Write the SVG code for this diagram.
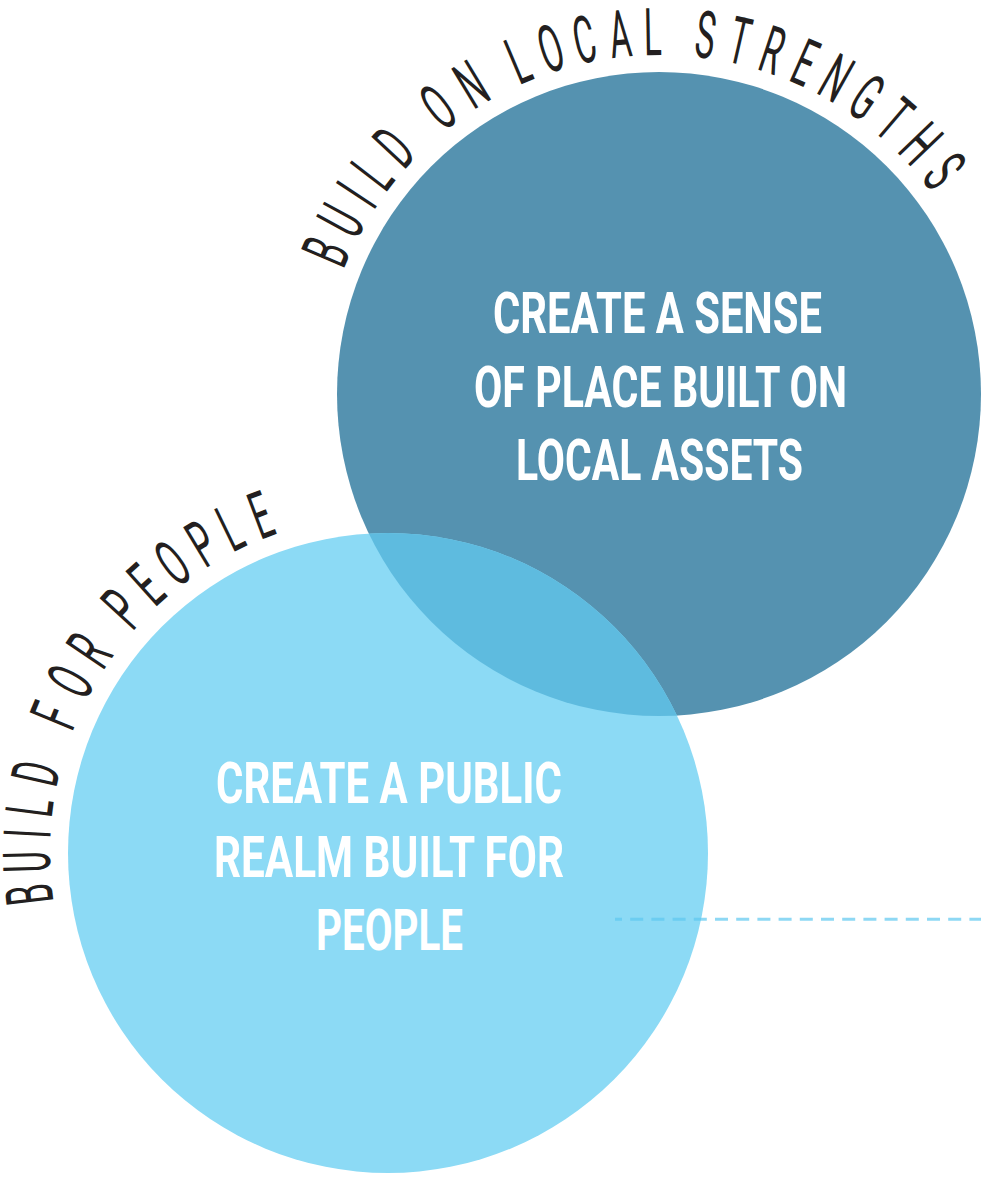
<svg xmlns="http://www.w3.org/2000/svg" width="981" height="1177" viewBox="0 0 981 1177">
<style>
.arc{font-family:Roboto,"Liberation Sans",sans-serif;font-weight:400;font-size:66px;fill:#231f20;text-anchor:middle}
.inner{font-family:Roboto,"Liberation Sans",sans-serif;font-weight:700;font-size:57px;fill:#ffffff}
</style>
<defs>
<clipPath id="clipDark"><circle cx="659" cy="394" r="322"/></clipPath>
</defs>
<g id="node-local-strengths">
<circle cx="659" cy="394" r="322" fill="#5592b0"/>
</g>
<g id="node-people">
<circle cx="388" cy="853" r="320" fill="#8cdaf5"/>
</g>
<g id="overlap">
<circle cx="388" cy="853" r="320" fill="#5ebbdf" clip-path="url(#clipDark)"/>
</g>
<g id="label-local-strengths">
<text class="inner" x="493" y="333" textLength="329" lengthAdjust="spacingAndGlyphs">CREATE A SENSE</text>
<text class="inner" x="474" y="407" textLength="373" lengthAdjust="spacingAndGlyphs">OF PLACE BUILT ON</text>
<text class="inner" x="516" y="480" textLength="287" lengthAdjust="spacingAndGlyphs">LOCAL ASSETS</text>
</g>
<g id="label-people">
<text class="inner" x="216" y="803" textLength="346" lengthAdjust="spacingAndGlyphs">CREATE A PUBLIC</text>
<text class="inner" x="214" y="877" textLength="350" lengthAdjust="spacingAndGlyphs">REALM BUILT FOR</text>
<text class="inner" x="316" y="950" textLength="147" lengthAdjust="spacingAndGlyphs">PEOPLE</text>
</g>
<g id="arc-build-on-local-strengths">
<text class="arc" transform="rotate(-66.8 659 394) translate(659 55) scale(0.5 1)">B</text>
<text class="arc" transform="rotate(-61.4 659 394) translate(659 55) scale(0.5 1)">U</text>
<text class="arc" transform="rotate(-56.6 659 394) translate(659 55) scale(0.5 1)">I</text>
<text class="arc" transform="rotate(-52.3 659 394) translate(659 55) scale(0.5 1)">L</text>
<text class="arc" transform="rotate(-47.0 659 394) translate(659 55) scale(0.5 1)">D</text>
<text class="arc" transform="rotate(-37.6 659 394) translate(659 55) scale(0.5 1)">O</text>
<text class="arc" transform="rotate(-31.2 659 394) translate(659 55) scale(0.5 1)">N</text>
<text class="arc" transform="rotate(-22.9 659 394) translate(659 55) scale(0.5 1)">L</text>
<text class="arc" transform="rotate(-17.4 659 394) translate(659 55) scale(0.5 1)">O</text>
<text class="arc" transform="rotate(-11.9 659 394) translate(659 55) scale(0.5 1)">C</text>
<text class="arc" transform="rotate(-6.2 659 394) translate(659 55) scale(0.5 1)">A</text>
<text class="arc" transform="rotate(-1.0 659 394) translate(659 55) scale(0.5 1)">L</text>
<text class="arc" transform="rotate(7.4 659 394) translate(659 55) scale(0.5 1)">S</text>
<text class="arc" transform="rotate(12.9 659 394) translate(659 55) scale(0.5 1)">T</text>
<text class="arc" transform="rotate(18.3 659 394) translate(659 55) scale(0.5 1)">R</text>
<text class="arc" transform="rotate(23.8 659 394) translate(659 55) scale(0.5 1)">E</text>
<text class="arc" transform="rotate(29.3 659 394) translate(659 55) scale(0.5 1)">N</text>
<text class="arc" transform="rotate(35.0 659 394) translate(659 55) scale(0.5 1)">G</text>
<text class="arc" transform="rotate(40.6 659 394) translate(659 55) scale(0.5 1)">T</text>
<text class="arc" transform="rotate(46.3 659 394) translate(659 55) scale(0.5 1)">H</text>
<text class="arc" transform="rotate(52.0 659 394) translate(659 55) scale(0.5 1)">S</text>
</g>
<g id="arc-build-for-people">
<text class="arc" transform="rotate(-96.6 388 853) translate(388 515) scale(0.5 1)">B</text>
<text class="arc" transform="rotate(-91.4 388 853) translate(388 515) scale(0.5 1)">U</text>
<text class="arc" transform="rotate(-86.9 388 853) translate(388 515) scale(0.5 1)">I</text>
<text class="arc" transform="rotate(-82.7 388 853) translate(388 515) scale(0.5 1)">L</text>
<text class="arc" transform="rotate(-77.2 388 853) translate(388 515) scale(0.5 1)">D</text>
<text class="arc" transform="rotate(-67.6 388 853) translate(388 515) scale(0.5 1)">F</text>
<text class="arc" transform="rotate(-61.6 388 853) translate(388 515) scale(0.5 1)">O</text>
<text class="arc" transform="rotate(-55.8 388 853) translate(388 515) scale(0.5 1)">R</text>
<text class="arc" transform="rotate(-47.4 388 853) translate(388 515) scale(0.5 1)">P</text>
<text class="arc" transform="rotate(-42.0 388 853) translate(388 515) scale(0.5 1)">E</text>
<text class="arc" transform="rotate(-36.6 388 853) translate(388 515) scale(0.5 1)">O</text>
<text class="arc" transform="rotate(-31.0 388 853) translate(388 515) scale(0.5 1)">P</text>
<text class="arc" transform="rotate(-25.9 388 853) translate(388 515) scale(0.5 1)">L</text>
<text class="arc" transform="rotate(-20.6 388 853) translate(388 515) scale(0.5 1)">E</text>
</g>
<g id="connectors">
<line x1="615" y1="919.3" x2="981" y2="919.3" stroke="#5ec8f0" stroke-opacity="0.7" stroke-width="3" stroke-dasharray="13 8.2" stroke-dashoffset="6"/>
</g>
</svg>
